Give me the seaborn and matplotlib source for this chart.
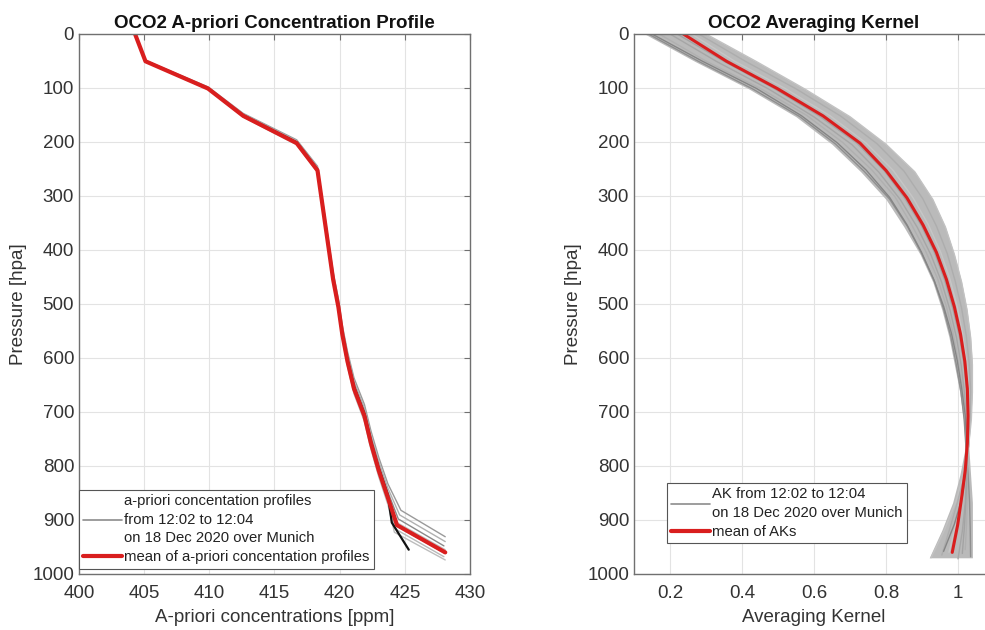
import matplotlib
matplotlib.use("Agg")
import matplotlib.pyplot as plt
import seaborn as sns
import pandas as pd
from matplotlib.lines import Line2D

# ---------------- data ----------------
PRESSURE_LEVELS = [0, 50.5, 101, 151.6, 202.1, 252.6, 303.2, 353.7, 404.2, 454.7,
                   505.3, 555.8, 606.3, 656.8, 707.4, 757.9, 808.4, 858.9, 909.5, 960]
REF_PSURF = 960

APRIORI_MEAN = [404.3, 405.1, 409.9, 412.6, 416.7, 418.3, 418.6, 418.9, 419.2, 419.5,
                419.9, 420.2, 420.6, 421.1, 421.9, 422.4, 423.0, 423.7, 424.4, 428.1]

PROFILE_PSURF = [931, 940, 948, 955, 962, 968, 974]
PROFILE_KINK = [424.7, 424.6, 424.5, 424.4, 424.4, 424.3, 424.2]
PROFILE_SURF = [428.1, 428.1, 428.0, 428.1, 428.1, 428.0, 428.1]
BLACK_PSURF = 955
BLACK_KINK = 424.0
BLACK_SURF = 425.3

AK_MEAN = [0.237, 0.357, 0.498, 0.625, 0.728, 0.800, 0.858, 0.903, 0.940, 0.968,
           0.990, 1.007, 1.019, 1.026, 1.028, 1.026, 1.020, 1.010, 0.999, 0.984]
AK_LOW = [0.13, 0.27, 0.42, 0.55, 0.65, 0.73, 0.80, 0.85, 0.895, 0.93,
          0.955, 0.975, 0.99, 1.005, 1.015, 1.02, 1.005, 0.985, 0.955, 0.92]
AK_HIGH = [0.30, 0.44, 0.575, 0.70, 0.80, 0.88, 0.93, 0.965, 0.99, 1.01,
           1.025, 1.035, 1.04, 1.04, 1.035, 1.03, 1.035, 1.04, 1.04, 1.04]
AK_CURVES = [
    [0.14, 0.28, 0.43, 0.56, 0.66, 0.74, 0.81, 0.86, 0.90, 0.935, 0.96, 0.98, 0.995, 1.008, 1.017, 1.022, 1.028, 1.032, 1.034, 1.035],
    [0.17, 0.30, 0.45, 0.58, 0.68, 0.76, 0.825, 0.87, 0.91, 0.943, 0.967, 0.986, 1.0, 1.012, 1.02, 1.024, 1.026, 1.026, 1.024, 1.02],
    [0.20, 0.33, 0.475, 0.60, 0.705, 0.78, 0.84, 0.887, 0.925, 0.955, 0.978, 0.996, 1.009, 1.018, 1.023, 1.025, 1.024, 1.02, 1.012, 1.0],
    [0.26, 0.38, 0.52, 0.645, 0.745, 0.82, 0.875, 0.918, 0.952, 0.978, 0.998, 1.013, 1.024, 1.03, 1.031, 1.028, 1.02, 1.008, 0.993, 0.975],
    [0.28, 0.41, 0.55, 0.675, 0.775, 0.85, 0.902, 0.94, 0.97, 0.992, 1.01, 1.023, 1.031, 1.035, 1.034, 1.03, 1.018, 1.0, 0.978, 0.955],
    [0.30, 0.44, 0.575, 0.70, 0.80, 0.88, 0.93, 0.965, 0.99, 1.01, 1.025, 1.035, 1.04, 1.04, 1.037, 1.029, 1.015, 0.993, 0.962, 0.925],
    [0.15, 0.29, 0.44, 0.565, 0.665, 0.745, 0.81, 0.858, 0.898, 0.932, 0.96, 0.982, 0.998, 1.01, 1.02, 1.024, 1.022, 1.012, 0.99, 0.96],
    [0.22, 0.35, 0.49, 0.615, 0.72, 0.795, 0.852, 0.898, 0.935, 0.963, 0.985, 1.003, 1.016, 1.024, 1.028, 1.027, 1.025, 1.022, 1.018, 1.012],
]
AK_PSURF = [968, 955, 972, 960, 965, 970, 958, 962]
AK_BAND_PSURF = 970

X1_TICKS = [400, 405, 410, 415, 420, 425, 430]
X2_TICKS = [0.2, 0.4, 0.6, 0.8, 1.0]
X2_TICKLABELS = ["0.2", "0.4", "0.6", "0.8", "1"]
Y_TICKS = list(range(0, 1001, 100))

# ---------------- style ----------------
sns.set_style("white")
plt.rcParams["font.family"] = ["Liberation Sans", "DejaVu Sans"]

RED = "#d91e1e"
SPINE = "#707070"
TXT = "#333333"
FS = 13.5


def scaled(psurf):
    return [p * psurf / REF_PSURF for p in PRESSURE_LEVELS]


fig = plt.figure(figsize=(9.85, 6.3), dpi=100)
ax1 = fig.add_axes([79 / 985, 56 / 630, 391 / 985, 540 / 630])
ax2 = fig.add_axes([634 / 985, 56 / 630, 360 / 985, 540 / 630])

# ---------------- left panel ----------------
gray_cols = ["#9a9a9a", "#b0b0b0", "#8a8a8a", "#c0c0c0", "#a5a5a5", "#b8b8b8", "#bdbdbd"]
for i, ps in enumerate(PROFILE_PSURF):
    conc = APRIORI_MEAN[:18] + [PROFILE_KINK[i], PROFILE_SURF[i]]
    df = pd.DataFrame({"conc": conc, "p": scaled(ps)})
    sns.lineplot(data=df, x="conc", y="p", ax=ax1, color=gray_cols[i], lw=1.0,
                 sort=False, estimator=None, orient="y")
dfb = pd.DataFrame({"conc": APRIORI_MEAN[:18] + [BLACK_KINK, BLACK_SURF], "p": scaled(BLACK_PSURF)})
sns.lineplot(data=dfb, x="conc", y="p", ax=ax1, color="#111111", lw=1.6,
             sort=False, estimator=None, orient="y")
dfm = pd.DataFrame({"conc": APRIORI_MEAN, "p": PRESSURE_LEVELS})
sns.lineplot(data=dfm, x="conc", y="p", ax=ax1, color=RED, lw=3.0,
             sort=False, estimator=None, orient="y")

# ---------------- right panel ----------------
band_p = scaled(AK_BAND_PSURF)
ax2.fill_betweenx(band_p, AK_LOW, AK_HIGH, color="#bababa", lw=0)
ak_cols = ["#8f8f8f", "#b0b0b0", "#a6a6a6", "#c6c6c6", "#adadad", "#c2c2c2", "#858585", "#a3a3a3"]
for i, curve in enumerate(AK_CURVES):
    df = pd.DataFrame({"ak": curve, "p": scaled(AK_PSURF[i])})
    sns.lineplot(data=df, x="ak", y="p", ax=ax2, color=ak_cols[i], lw=1.0,
                 sort=False, estimator=None, orient="y")
dfa = pd.DataFrame({"ak": AK_MEAN, "p": PRESSURE_LEVELS})
sns.lineplot(data=dfa, x="ak", y="p", ax=ax2, color=RED, lw=2.2,
             sort=False, estimator=None, orient="y")

# ---------------- axes formatting ----------------
for ax in (ax1, ax2):
    ax.set_ylim(1000, 0)
    ax.set_yticks(Y_TICKS)
    ax.grid(True, color="#e3e3e3", lw=0.8)
    ax.set_axisbelow(True)
    for s in ax.spines.values():
        s.set_color(SPINE)
        s.set_linewidth(1.0)
        s.set_visible(True)
    ax.tick_params(direction="in", top=True, right=True, length=4, width=0.8,
                   color=SPINE, labelsize=FS, labelcolor=TXT)
    ax.tick_params(axis="y", pad=3.5)
    ax.tick_params(axis="x", pad=8)
    ax.set_facecolor("white")

ax1.set_ylabel("Pressure [hpa]", fontsize=FS, color=TXT)
ax1.yaxis.set_label_coords(-0.133, 0.5)
ax2.set_ylabel("Pressure [hpa]", fontsize=FS, color=TXT)
ax2.yaxis.set_label_coords(-0.144, 0.5)

ax1.set_xlim(400, 430)
ax1.set_xticks(X1_TICKS)
ax1.set_xlabel("A-priori concentrations [ppm]", fontsize=FS, color=TXT, labelpad=5)
ax1.set_title("OCO2 A-priori Concentration Profile", fontsize=13.5, fontweight="bold",
              color="#111111", pad=4)

ax2.set_xlim(0.1, 1.1)
ax2.set_xticks(X2_TICKS)
ax2.set_xticklabels(X2_TICKLABELS)
ax2.set_xlabel("Averaging Kernel", fontsize=FS, color=TXT, labelpad=5)
ax2.set_title("OCO2 Averaging Kernel", fontsize=13.5, fontweight="bold",
              color="#111111", pad=4)

# legends
h_gray = Line2D([], [], color="#8c8c8c", lw=1.2)
h_red = Line2D([], [], color=RED, lw=3.0)
leg_kw = dict(loc="lower left", fontsize=10.7, frameon=True, fancybox=False,
              framealpha=1, edgecolor="#555555", borderpad=0.3, handlelength=2.6,
              handletextpad=0.15, labelspacing=0.35, borderaxespad=0)
leg1 = ax1.legend([h_gray, h_red],
                  ["a-priori concentation profiles\nfrom 12:02 to 12:04\non 18 Dec 2020 over Munich",
                   "mean of a-priori concentation profiles"],
                  bbox_to_anchor=(0.0, 0.01), **leg_kw)
leg2 = ax2.legend([h_gray, h_red],
                  ["AK from 12:02 to 12:04\non 18 Dec 2020 over Munich", "mean of AKs"],
                  bbox_to_anchor=(0.091, 0.057), **leg_kw)
for leg in (leg1, leg2):
    leg.get_frame().set_linewidth(0.8)
    for t in leg.get_texts():
        t.set_linespacing(1.4)
        t.set_color("#222222")

fig.savefig("out.png", dpi=100, facecolor="white")
